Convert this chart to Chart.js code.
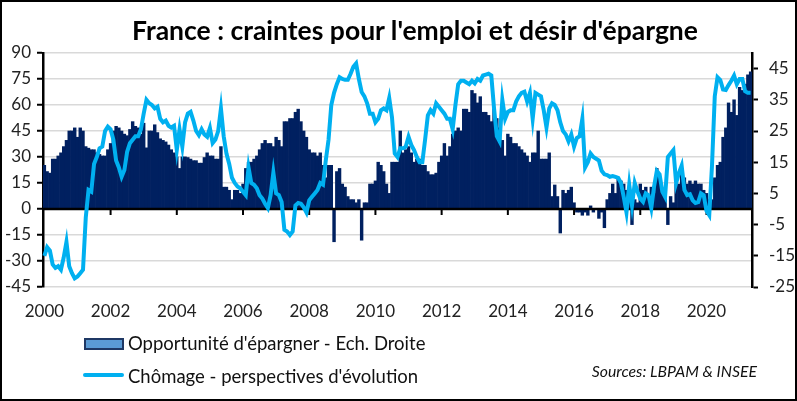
<!DOCTYPE html>
<html>
<head>
<meta charset="utf-8">
<script src="https://cdn.jsdelivr.net/npm/chart.js@4.4.1/dist/chart.umd.min.js"></script>
<style>
  html, body { margin: 0; padding: 0; background: #fff; }
  #wrap { position: relative; width: 797px; height: 401px; font-family: Lato, "Open Sans", sans-serif; }
  #frame { position: absolute; left: 0; top: 0; width: 797px; height: 401px; box-sizing: border-box; border: 2px solid #000; pointer-events: none; }
  #title { position: absolute; left: 0; width: 830px; top: 15px; text-align: center; font-size: 26.5px; font-weight: bold; color: #000; white-space: nowrap; line-height: 30px; }
  .leg { position: absolute; font-size: 18.5px; color: #111; white-space: nowrap; line-height: 22px; }
  .box { position: absolute; left: 84px; top: 338px; width: 36px; height: 8px; background: #5b9bd5; border: 2px solid #1f3864; }
  .ln { position: absolute; left: 83px; top: 373px; width: 41px; height: 4px; background: #00b0f0; border-radius: 2px; }
  #src { position: absolute; right: 40px; top: 361px; font-size: 15.8px; font-style: italic; color: #111; white-space: nowrap; }
</style>
</head>
<body>
<div id="wrap">
  <canvas id="chart" width="797" height="401"></canvas>
  <div id="title">France : craintes pour l'emploi et désir d'épargne</div>
  <div class="box"></div>
  <div class="leg" style="left:128px; top:332px;">Opportunité d'épargner - Ech. Droite</div>
  <div class="ln"></div>
  <div class="leg" style="left:128px; top:365px;">Chômage - perspectives d'évolution</div>
  <div id="src">Sources: LBPAM &amp; INSEE</div>
  <div id="frame"></div>
</div>
<script>
// monthly, Jan 2000 -> May 2021
const firstYear = 2000;
const lastYear = 2021;
const lastMonth = 5;

// Opportunité d'épargner (right axis), one row per year
const opportuniteEpargner = [
  14, 12, 11.5, 16, 16, 17, 18, 20, 22, 25, 25, 26,        // 2000
  23, 26, 25, 20, 19.5, 19, 19, 18, 17.5, 17, 17, 19,      // 2001
  21, 25, 26.5, 26, 25, 24, 23.5, 25.5, 28, 26.5, 26, 24,  // 2002
  27.5, 19.6, 25, 25, 27, 24.5, 22.5, 22, 21.5, 20.5, 19, 18, // 2003
  16.7, 13, 16.7, 16.7, 16.5, 16, 15.5, 15.5, 14.7, 14.7, 16.5, 18, // 2004
  17, 17, 16, 16, 20, 7, 7, 6, 3, 6, 6, 5,                 // 2005
  8, 13, 15, 15, 16, 17, 19, 21, 22, 21, 21, 20,           // 2006
  23, 22, 20, 28, 28, 29, 29, 31, 32, 28, 25, 23,          // 2007
  19, 18, 18, 17, 18, 14, 10, 14, 14, -10.5, 12, 13,       // 2008
  8, 7, 4, 3, 3, 2, 3, -10, 2, 2, 8, 8,                    // 2009
  9, 15, 14, 12, 8, 5, 15, 15, 15, 25, 18, 19,             // 2010
  20, 18, 15, 16, 16, 14, 14, 12, 11, 11, 11.5, 15,        // 2011
  17, 21, 17, 20, 24, 25, 26, 25, 32, 32, 31, 38,          // 2012
  37, 34, 36, 31, 31, 30, 28, 32, 29, 26, 22, 17,          // 2013
  24, 23, 21, 21, 20, 19, 18, 17, 15, 18, 18, 25,          // 2014
  16, 16, 16, 18, 4, 7.7, 4, -7.7, 6, 5, 6, 7,             // 2015
  2, -1, -1, -2, -1, -2, 1, -1, 0, -3, -1, -6,             // 2016
  3, 5, 8, 5, 10, 9, 8, 6, 4, -5, 3, 2,                    // 2017
  8, 6, 7, 4, 7, 5, 13, 10, 5, 4, -5, 4,                   // 2018
  2, 8, 8, 13, 10, 8, 9, 8, 9, 8, 8, 6,                    // 2019
  5, 3, 3, 10, 14, 15, 23, 26, 34, 31, 35, 30,             // 2020
  39, 38, 40, 43, 44                                       // 2021
];

// Chômage - perspectives d'évolution (left axis)
const chomagePerspectives = [
  -27, -22, -24, -32, -34, -33, -35, -28, -19, -33, -37, -40, // 2000
  -39, -37, -35, -5, 11, 10, 26, 30, 35, 36, 45, 47.5,      // 2001
  46, 40, 28, 24, 18.6, 22.5, 33, 38, 40, 42, 42, 46,       // 2002
  55, 63, 61, 60, 58, 59, 52, 50, 51, 48, 47, 48,           // 2003
  34, 46, 36, 50, 55, 56, 51, 45, 42.6, 46, 43, 41.7,       // 2004
  46.7, 38, 40, 45, 58, 42, 32, 26, 18, 15, 13, 12,         // 2005
  10, 8, 24, 15, 14, 12, 8, 6, 3, 0.5, 8, 21,               // 2006
  9, 8, 4, -12, -13, -15, -13, 2, 3.5, 3, 1, -2,            // 2007
  5, 7, 9, 11, 15, 14, 28, 40, 60, 67, 72, 76,              // 2008
  75, 74.5, 74.5, 78, 82, 84, 75, 67.5, 65, 61, 55, 55,     // 2009
  50, 52, 57, 58, 57, 64, 53, 32, 30, 35, 35, 36,           // 2010
  41.7, 37, 34, 30, 27, 27, 40, 54, 57, 55, 61, 59,         // 2011
  57, 55, 52, 52, 46, 60, 72, 74, 74, 73, 72, 74,           // 2012
  72.5, 75, 74, 77, 77.5, 78, 77, 58, 42, 39, 63, 52,       // 2013
  56, 57, 57, 62, 65, 67, 67.7, 62, 67, 52, 67, 66,         // 2014
  65, 57, 47, 58, 61, 60, 57, 50, 45, 43, 39, 43,           // 2015
  36, 41, 42, 52, 24, 27, 32, 30, 29, 28, 22, 20,           // 2016
  19.6, 18.6, 19, 18.5, 17.9, 15, 7, -2, 14, 2, 15, 10,     // 2017
  6, 4.2, 9, 8, 0.5, 13, 22, 20, 10, 7, 30, 32,             // 2018
  34, 15, 20.7, 25, 11, 8, 8.5, 5, 3.5, 4, 9, 8,            // 2019
  -1, -3.5, 25, 65, 76, 74.4, 69, 68.7, 71.5, 74, 77, 72,   // 2020
  75, 75, 68, 67, 67                                        // 2021
];

const leftTicks = [-45, -30, -15, 0, 15, 30, 45, 60, 75, 90];
const rightTicks = [-25, -15, -5, 5, 15, 25, 35, 45];
const yearTicks = ['2000', '2002', '2004', '2006', '2008', '2010', '2012', '2014', '2016', '2018', '2020'];

const labels = [];
for (let y = firstYear; y <= lastYear; y++) {
    for (let m = 1; m <= 12; m++) {
        if (y === lastYear && m > lastMonth) break;
        labels.push(y + '-' + String(m).padStart(2, '0'));
    }
}

function yearLabel(lab) {
    const parts = lab.split('-');
    if (parts[1] === '01' && yearTicks.includes(parts[0])) return parts[0];
    return null;
}

// black axis at 0 with tick marks, drawn over the bars and under the line
const zeroAxis = {
    id: 'zeroAxis',
    afterDatasetDraw(chart, args) {
        if (args.index !== 0) return;
        const { ctx, chartArea, scales } = chart;
        const y0 = scales.y.getPixelForValue(0);
        ctx.save();
        ctx.strokeStyle = '#000';
        ctx.lineWidth = 2.5;
        ctx.beginPath();
        ctx.moveTo(chartArea.left, y0);
        ctx.lineTo(chartArea.right, y0);
        ctx.stroke();
        ctx.lineWidth = 2;
        ctx.beginPath();
        labels.forEach((lab, i) => {
            if (i > 0 && yearLabel(lab)) {
                const x = scales.x.getPixelForValue(i);
                ctx.moveTo(x, y0);
                ctx.lineTo(x, y0 + 6);
            }
        });
        ctx.stroke();
        ctx.restore();
    }
};

const font = 'Lato, "Open Sans", sans-serif';

new Chart(document.getElementById('chart'), {
    data: {
        labels: labels,
        datasets: [{
            type: 'bar',
            label: "Opportunité d'épargner - Ech. Droite",
            data: opportuniteEpargner,
            yAxisID: 'y1',
            backgroundColor: '#002060',
            borderWidth: 0,
            barPercentage: 1,
            categoryPercentage: 1,
            order: 2
        }, {
            type: 'line',
            label: "Chômage - perspectives d'évolution",
            data: chomagePerspectives,
            yAxisID: 'y',
            borderColor: '#00b0f0',
            borderWidth: 4,
            pointRadius: 0,
            tension: 0,
            order: 1
        }]
    },
    options: {
        responsive: false,
        animation: false,
        devicePixelRatio: 1,
        layout: { padding: { left: 0, right: 0, top: 53, bottom: 84 } },
        plugins: {
            legend: { display: false },
            tooltip: { enabled: false },
            title: { display: false }
        },
        scales: {
            x: {
                type: 'category',
                offset: true,
                grid: { display: false, drawTicks: false },
                border: { display: false },
                ticks: {
                    autoSkip: false,
                    maxRotation: 0,
                    padding: 14,
                    color: '#222',
                    font: { family: font, size: 17 },
                    callback: function (value) { return yearLabel(this.getLabelForValue(value)); }
                },
                afterFit: (scale) => { scale.height = 30; }
            },
            y: {
                position: 'left',
                min: -45,
                max: 90,
                afterBuildTicks: (scale) => { scale.ticks = leftTicks.map(v => ({ value: v })); },
                grid: { color: '#d9d9d9', lineWidth: 1.5, tickColor: '#000', tickLength: 6, tickWidth: 2 },
                border: { color: '#000', width: 2.5 },
                ticks: { padding: 6, color: '#222', font: { family: font, size: 17 } },
                afterFit: (scale) => { scale.width = 43; }
            },
            y1: {
                position: 'right',
                min: -25,
                max: 50,
                afterBuildTicks: (scale) => { scale.ticks = rightTicks.map(v => ({ value: v })); },
                grid: { drawOnChartArea: false, tickColor: '#000', tickLength: 6, tickWidth: 2 },
                border: { color: '#000', width: 2.5 },
                ticks: { padding: 11, color: '#222', font: { family: font, size: 17 } },
                afterFit: (scale) => { scale.width = 45; }
            }
        }
    },
    plugins: [zeroAxis]
});
</script>
</body>
</html>
